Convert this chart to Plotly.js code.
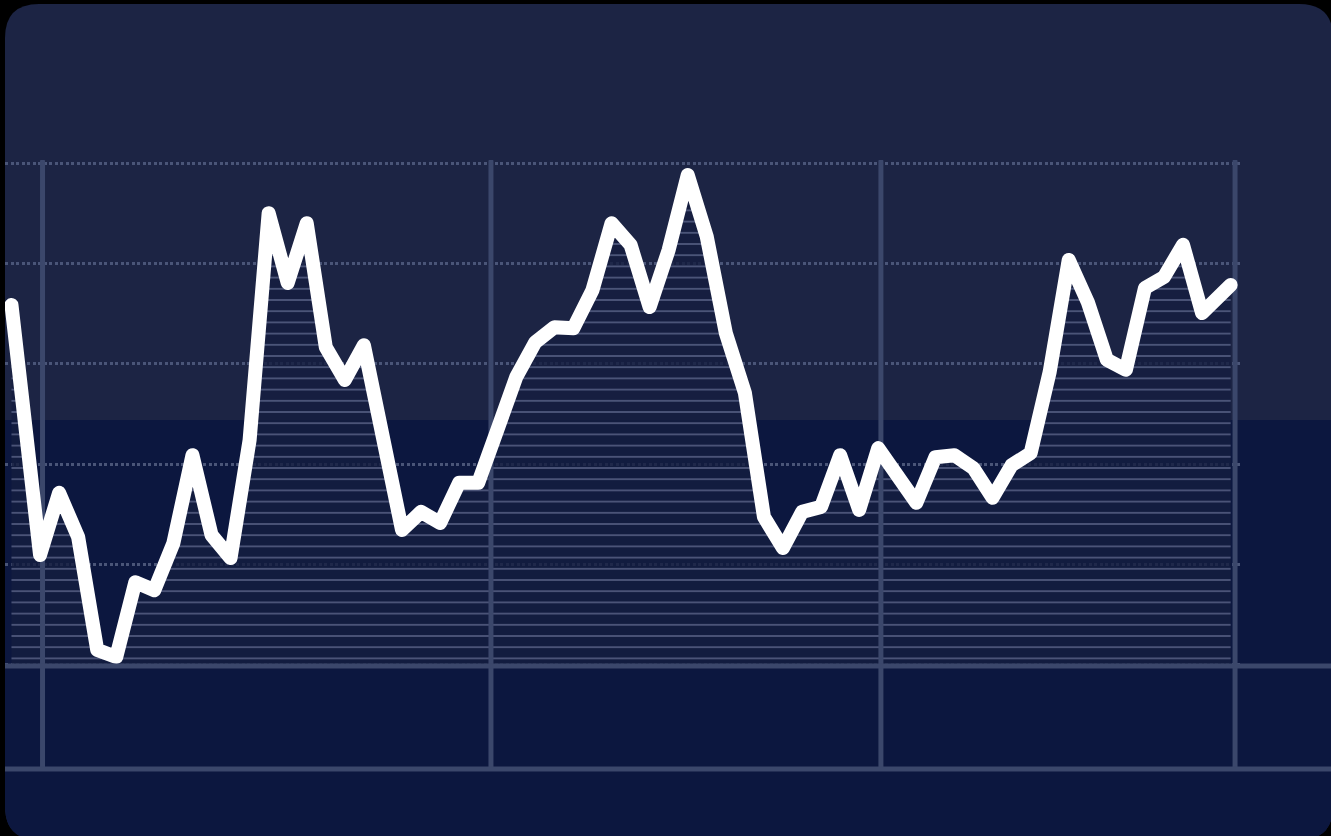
<!DOCTYPE html>
<html>
<head>
<meta charset="utf-8">
<script src="https://cdn.plot.ly/plotly-3.0.1.min.js"></script>
<style>
html,body{margin:0;padding:0;background:#000;}
#chart{width:1331px;height:836px;}
.scatterlayer .js-line{stroke-linejoin:round;stroke-linecap:round;}
</style>
</head>
<body>
<div id="chart"></div>
<script>
// ---- data ----
const xValues = [-0.5, 1, 2, 3, 4, 5, 6, 7, 8, 9, 10, 11, 12, 13, 14, 15, 16, 17, 18, 19, 20,
  21, 22, 23, 24, 25, 26, 27, 28, 29, 30, 31, 32, 33, 34, 35, 36, 37, 38, 39, 40,
  41, 42, 43, 44, 45, 46, 47, 48, 49, 50, 51, 52, 53, 54, 55, 56, 57, 58, 59, 60,
  61, 62, 63.5];
const yValues = [71.7, 21.9, 34.3, 25.5, 3.0, 1.6, 16.5, 14.9, 24.3, 41.8, 25.9,
  21.3, 44.8, 90.0, 76.1, 88.0, 63.3, 56.8, 63.7, 46.8, 26.9,
  30.5, 28.3, 36.3, 36.3, 46.8, 57.4, 64.3, 67.3, 67.1, 74.7,
  88.0, 83.7, 71.3, 82.7, 97.6, 85.3, 66.1, 54.2, 29.5, 23.3,
  30.5, 31.5, 41.8, 30.9, 43.2, 37.5, 32.3, 41.4, 41.8, 39.2,
  33.3, 39.8, 42.2, 58.4, 80.7, 72.3, 60.8, 58.8, 75.1, 77.3,
  83.7, 70.1, 75.7];
const xGridValues = [1.13, 24.67, 45.14, 63.73];
const yGridValues = [0, 20, 40, 60, 80, 100];
const xRange = [-0.84, 63.99];
const yRange = [-20.52, 100.6];

// ---- layout geometry (pixels) ----
const W = 1331, H = 836;
const M = {l: 5, r: 91, t: 160, b: 68};
const PW = W - M.l - M.r, PH = H - M.t - M.b;
const fx = p => (p - M.l) / PW;
const fy = p => (H - M.b - p) / PH;
function pt(x, y) { return fx(x).toFixed(5) + ',' + fy(y).toFixed(5); }

const C = {x0: 5, y0: 4, x1: 1333, y1: 840, r: 34, split: 420};
const cardPath = 'M' + pt(C.x0 + C.r, C.y0) + ' L' + pt(C.x1 - C.r, C.y0) +
  ' Q' + pt(C.x1, C.y0) + ' ' + pt(C.x1, C.y0 + C.r) +
  ' L' + pt(C.x1, C.y1 - C.r) + ' Q' + pt(C.x1, C.y1) + ' ' + pt(C.x1 - C.r, C.y1) +
  ' L' + pt(C.x0 + C.r, C.y1) + ' Q' + pt(C.x0, C.y1) + ' ' + pt(C.x0, C.y1 - C.r) +
  ' L' + pt(C.x0, C.y0 + C.r) + ' Q' + pt(C.x0, C.y0) + ' ' + pt(C.x0 + C.r, C.y0) + ' Z';
const lowerPath = 'M' + pt(C.x0, C.split) + ' L' + pt(C.x1, C.split) +
  ' L' + pt(C.x1, C.y1 - C.r) + ' Q' + pt(C.x1, C.y1) + ' ' + pt(C.x1 - C.r, C.y1) +
  ' L' + pt(C.x0 + C.r, C.y1) + ' Q' + pt(C.x0, C.y1) + ' ' + pt(C.x0, C.y1 - C.r) + ' Z';

const gridColor = '#3b476b';

// vertical grid lines drawn as a trace above the fill, below the line
const vx = [], vy = [];
xGridValues.forEach(g => { vx.push(g, g, null); vy.push(yRange[0], yRange[1] - 0.3, null); });

const traces = [
  {
    type: 'scatter', mode: 'lines', x: xValues, y: yValues,
    fill: 'tozeroy', fillcolor: 'rgba(0,0,0,0)',
    fillpattern: {shape: '-', size: 11.2, solidity: 0.15,
      fgcolor: '#5f6a8e', fgopacity: 0.8, bgcolor: 'rgba(20,29,63,0.8)'},
    line: {width: 0}, hoverinfo: 'skip', showlegend: false
  },
  {
    type: 'scatter', mode: 'lines', x: vx, y: vy,
    line: {color: gridColor, width: 5}, hoverinfo: 'skip', showlegend: false
  },
  {
    type: 'scatter', mode: 'lines', x: xValues, y: yValues,
    line: {color: '#ffffff', width: 14}, hoverinfo: 'skip', showlegend: false
  }
];

const layout = {
  width: W, height: H,
  margin: M,
  paper_bgcolor: '#000000',
  plot_bgcolor: 'rgba(0,0,0,0)',
  showlegend: false,
  xaxis: {range: xRange, showgrid: false, zeroline: false, showline: false,
    showticklabels: false, ticks: '', fixedrange: true},
  yaxis: {range: yRange, tickmode: 'array', tickvals: yGridValues,
    showgrid: true, gridcolor: '#4a5578', gridwidth: 3, griddash: '3px,2.5px',
    zeroline: false, showline: false, showticklabels: false, ticks: '', fixedrange: true},
  shapes: [
    {type: 'path', xref: 'paper', yref: 'paper', path: cardPath,
      fillcolor: '#1c2444', line: {width: 0}, layer: 'below'},
    {type: 'path', xref: 'paper', yref: 'paper', path: lowerPath,
      fillcolor: '#0c173f', line: {width: 0}, layer: 'below'},
    {type: 'line', xref: 'paper', yref: 'paper', x0: fx(C.x0), x1: fx(1331),
      y0: fy(666), y1: fy(666), line: {color: gridColor, width: 5}, layer: 'above'},
    {type: 'line', xref: 'paper', yref: 'paper', x0: fx(C.x0), x1: fx(1331),
      y0: fy(769), y1: fy(769), line: {color: gridColor, width: 5}, layer: 'above'}
  ]
};

Plotly.newPlot('chart', traces, layout, {displayModeBar: false, staticPlot: true});
</script>
</body>
</html>
